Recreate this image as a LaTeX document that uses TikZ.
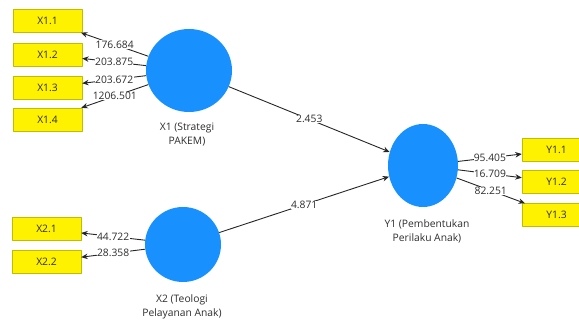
\documentclass[tikz,border=0pt]{standalone}
\usepackage{fontspec}
\setmainfont{Open Sans}
\usetikzlibrary{shapes.geometric,arrows.meta}

\definecolor{latblue}{RGB}{24,145,255}
\definecolor{boxedge}{RGB}{190,190,0}
\definecolor{txtgray}{RGB}{45,45,45}

\begin{document}
\begin{tikzpicture}[
        x = 1pt, y = -1pt,
        line join=round,
        font = \fontsize{10.3}{14}\selectfont,
        >={Stealth[length=6.5pt,width=5.5pt]},
        latent/.style = {ellipse, fill=latblue, inner sep=0pt},
        indic/.style = {draw=boxedge, fill=yellow, text=txtgray, minimum width=69pt, minimum height=23pt, inner sep=0pt},
        caption/.style = {text=txtgray, align=center},
        weight/.style = {midway, fill=white, text=txtgray, inner sep=0.3pt},
        link/.style = {->, black!85, line width=0.9pt}
    ]

    \useasboundingbox (0,0) rectangle (579,320);

    \node[latent, minimum width=86pt, minimum height=83pt] (X1) at (189,70.5) {};
    \node[latent, minimum width=76pt, minimum height=75pt] (X2) at (183,244.5) {};
    \node[latent, minimum width=70pt, minimum height=83pt] (Y1) at (423,165.5) {};

    \node[caption] (X1lab) at (187,135) {X1 (Strategi\\PAKEM)};
    \node[caption] (X2lab) at (182,306.5) {X2 (Teologi\\Pelayanan Anak)};
    \node[caption] (Y1lab) at (427,231.5) {Y1 (Pembentukan\\Perilaku Anak)};

    \node[indic] (X11) at (47.5,21) {X1.1};
    \node[indic] (X12) at (47.5,54.5) {X1.2};
    \node[indic] (X13) at (47.5,87.5) {X1.3};
    \node[indic] (X14) at (47.5,119.5) {X1.4};

    \node[indic] (X21) at (46.5,229) {X2.1};
    \node[indic] (X22) at (46.5,261.5) {X2.2};

    \node[indic] (Y11) at (556.5,150) {Y1.1};
    \node[indic] (Y12) at (556.5,182) {Y1.2};
    \node[indic] (Y13) at (556.5,215) {Y1.3};

    % ligando cada construto aos seus indicadores

    \draw[link] (X1) -- (X11) node[weight] {176.684};
    \draw[link] (X1) -- (X12) node[weight] {203.875};
    \draw[link] (X1) -- (X13) node[weight] {203.672};
    \draw[link] (X1) -- (X14) node[weight] {1206.501};

    \draw[link] (X2) -- (X21) node[weight] {44.722};
    \draw[link] (X2) -- (X22) node[weight] {28.358};

    \draw[link] (Y1) -- (Y11) node[weight] {95.405};
    \draw[link] (Y1) -- (Y12) node[weight] {16.709};
    \draw[link] (Y1) -- (Y13) node[weight] {82.251};

    \draw[link] (X1) -- (Y1) node[weight] {2.453};
    \draw[link] (X2) -- (Y1) node[weight] {4.871};

\end{tikzpicture}
\end{document}
